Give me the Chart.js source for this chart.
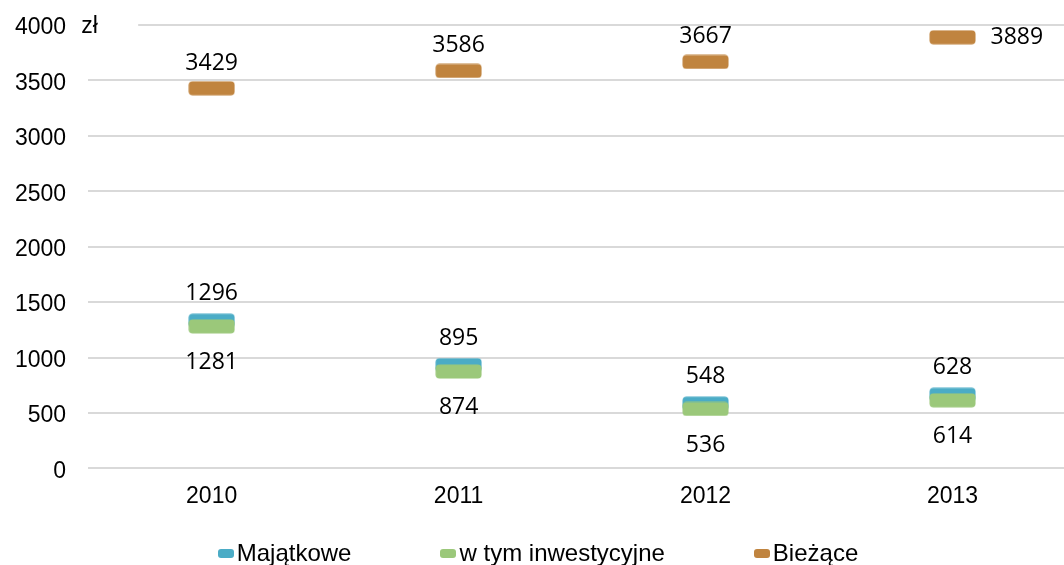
<!DOCTYPE html>
<html>
<head>
<meta charset="utf-8">
<script src="https://cdn.jsdelivr.net/npm/chart.js@4.4.0/dist/chart.umd.min.js"></script>
<style>
  html, body { margin: 0; padding: 0; background: #fff; }
  #wrap { width: 1064px; height: 565px; position: relative; overflow: hidden; }
  #plot { position: absolute; left: 0; top: 0; width: 1081px; height: 565px; }
  #legenda {
    position: absolute; left: 0; top: 539px; width: 1064px; padding-left: 12px; box-sizing: border-box;
    display: flex; justify-content: center; gap: 89px;
    font: 24px "Liberation Sans", Arial, sans-serif; color: #000; line-height: 28px;
  }
  #legenda span.it { display: flex; align-items: center; white-space: nowrap; }
  #legenda i { display: inline-block; width: 16px; height: 9px; border-radius: 3px; margin-right: 3px; }
</style>
</head>
<body>
<div id="wrap">
  <div id="plot"><canvas id="wydatki"></canvas></div>
  <div id="legenda"></div>
</div>
<script>
// Dane
const lata = ['2010', '2011', '2012', '2013'];
const majatkowe = [1296, 895, 548, 628];
const inwestycyjne = [1281, 874, 536, 614];
const biezace = [3429, 3586, 3667, 3889];
const osY = [0, 500, 1000, 1500, 2000, 2500, 3000, 3500, 4000];

// rounded bar used as point marker (shiftUp moves the visible bar above the point)
function znacznik(kolor, w, h, shiftUp) {
  const c = document.createElement('canvas');
  c.width = w;
  c.height = h + 2 * shiftUp;
  const ctx = c.getContext('2d');
  ctx.fillStyle = kolor;
  ctx.beginPath();
  ctx.roundRect(0.5, 0.5, w - 1, h - 1, 4);
  ctx.fill();
  return c;
}

// value labels next to the markers
const etykiety = {
  id: 'etykiety',
  afterDatasetsDraw(chart) {
    const ctx = chart.ctx;
    ctx.save();
    ctx.font = '23px "Open Sans"';
    ctx.fillStyle = '#000';
    ctx.textBaseline = 'middle';
    chart.data.datasets.forEach((ds, di) => {
      const meta = chart.getDatasetMeta(di);
      meta.data.forEach((pt, i) => {
        const gdzie = ds.etykieta[i];
        const txt = String(ds.data[i]);
        if (gdzie === 'prawo') {
          ctx.textAlign = 'left';
          ctx.fillText(txt, pt.x + 38, pt.y);
        } else if (gdzie === 'gora') {
          ctx.textAlign = 'center';
          ctx.fillText(txt, pt.x, pt.y - ds.odstep);
        } else {
          ctx.textAlign = 'center';
          ctx.fillText(txt, pt.x, pt.y + ds.odstep);
        }
      });
    });
    ctx.restore();
  }
};

// "zł" unit next to the top tick
const jednostka = {
  id: 'jednostka',
  afterDraw(chart) {
    const ctx = chart.ctx;
    const a = chart.chartArea;
    const y = chart.scales.y.getPixelForValue(4000);
    ctx.save();
    ctx.fillStyle = '#fff';
    ctx.fillRect(a.left - 8, y - 3, 58, 6);
    ctx.fillStyle = '#000';
    ctx.font = '23px "Liberation Sans", Arial, sans-serif';
    ctx.textAlign = 'left';
    ctx.textBaseline = 'alphabetic';
    ctx.fillText('zł', a.left - 7, y + 8);
    ctx.restore();
  }
};

const wykres = new Chart(document.getElementById('wydatki'), {
  type: 'line',
  data: {
    labels: lata,
    datasets: [
      {
        label: 'Bieżące',
        data: biezace,
        backgroundColor: '#C0843F',
        borderColor: '#C0843F',
        showLine: false,
        pointStyle: znacznik('#C0843F', 47, 15, 0),
        etykieta: ['gora', 'gora', 'gora', 'prawo'],
        odstep: 25
      },
      {
        label: 'w tym inwestycyjne',
        data: inwestycyjne,
        backgroundColor: '#9BC87A',
        borderColor: '#9BC87A',
        showLine: false,
        pointStyle: znacznik('#9BC87A', 47, 15, 0),
        etykieta: ['dol', 'dol', 'dol', 'dol'],
        odstep: 36
      },
      {
        label: 'Majątkowe',
        data: majatkowe,
        backgroundColor: '#4BACC6',
        borderColor: '#4BACC6',
        showLine: false,
        pointStyle: znacznik('#4BACC6', 47, 15, 4),
        etykieta: ['gora', 'gora', 'gora', 'gora'],
        odstep: 31
      }
    ]
  },
  options: {
    responsive: true,
    maintainAspectRatio: false,
    animation: false,
    layout: { padding: { left: -7, right: 0, top: 25, bottom: 49 } },
    scales: {
      x: {
        offset: true,
        grid: { display: false },
        border: { display: false },
        ticks: {
          color: '#000',
          padding: 6,
          font: { family: '"Liberation Sans", Arial, sans-serif', size: 23 }
        }
      },
      y: {
        min: 0,
        max: 4000,
        afterBuildTicks: (axis) => { axis.ticks = osY.map(v => ({ value: v })); },
        afterFit: (axis) => { axis.paddingTop = 0; axis.paddingBottom = 0; },
        grid: { color: '#D9D9D9', lineWidth: 2, drawTicks: false },
        border: { display: false },
        ticks: {
          color: '#000',
          padding: 22,
          labelOffset: 3,
          callback: (v) => String(v),
          font: { family: '"Liberation Sans", Arial, sans-serif', size: 23 }
        }
      }
    },
    plugins: {
      legend: { display: false },
      tooltip: { enabled: false }
    }
  },
  plugins: [etykiety, jednostka]
});

// legend in legend order (reverse of drawing order)
const leg = document.getElementById('legenda');
wykres.data.datasets.slice().reverse().forEach(ds => {
  const it = document.createElement('span');
  it.className = 'it';
  const m = document.createElement('i');
  m.style.background = ds.backgroundColor;
  it.appendChild(m);
  it.appendChild(document.createTextNode(ds.label));
  leg.appendChild(it);
});
</script>
</body>
</html>
